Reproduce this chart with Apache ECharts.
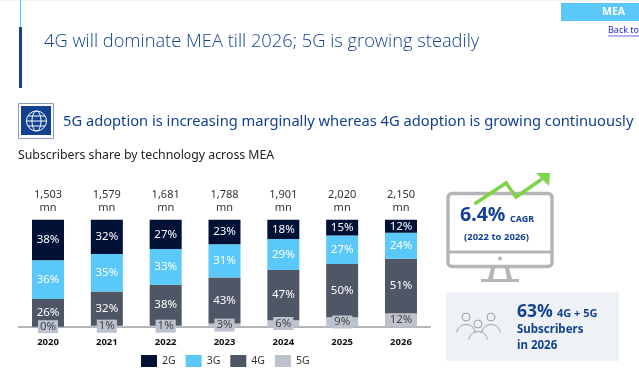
<!DOCTYPE html>
<html>
<head>
<meta charset="utf-8">
<script src="https://cdn.jsdelivr.net/npm/echarts@6/dist/echarts.min.js"></script>
<style>
html, body { margin: 0; padding: 0; background: #fff; }
#chart { width: 639px; height: 382px; }
</style>
</head>
<body>
<div id="chart"></div>
<script>
const years = ['2020', '2021', '2022', '2023', '2024', '2025', '2026'];
const totals = [1503, 1579, 1681, 1788, 1901, 2020, 2150];
// shares are rounded on the labels, the bars all reach 100
const share2G = [38, 32, 27.3, 23, 18, 14.7, 12.2];
const share3G = [36, 35, 33.4, 31, 29, 26.8, 24.3];
const share4G = [26, 32, 38.3, 43, 47, 49.7, 51.2];
const share5G = [0, 1, 1, 3, 6, 8.8, 12.3];

const NAVY = '#124191';
const FONT = '"Noto Sans", sans-serif';

const chart = echarts.init(document.getElementById('chart'));

function barSeries(name, data, color, labelColor, labelBg) {
  return {
    name: name,
    type: 'bar',
    stack: 'share',
    barWidth: 32,
    data: data,
    itemStyle: { color: color },
    label: {
      show: true,
      position: 'inside',
      color: labelColor,
      fontFamily: FONT,
      fontSize: 11.5,
      backgroundColor: labelBg,
      padding: labelBg ? [1, 2, 0, 2] : 0,
      formatter: p => Math.round(p.value) + '%'
    }
  };
}

function text(x, y, str, size, color, weight, family) {
  return {
    type: 'text',
    x: x,
    y: y,
    style: {
      text: str,
      fontSize: size,
      fill: color,
      fontWeight: weight || 'normal',
      fontFamily: family || FONT,
      verticalAlign: 'middle'
    }
  };
}

function rect(x, y, w, h, fill) {
  return { type: 'rect', shape: { x: x, y: y, width: w, height: h }, style: { fill: fill } };
}

function line(x1, y1, x2, y2, color, width) {
  return {
    type: 'line',
    shape: { x1: x1, y1: y1, x2: x2, y2: y2 },
    style: { stroke: color, lineWidth: width }
  };
}

function person(cx, cy) {
  return [
    { type: 'circle', shape: { cx: cx, cy: cy, r: 4 }, style: { fill: '#eef2f6', stroke: '#9aa0a8', lineWidth: 1 } },
    {
      type: 'arc',
      shape: { cx: cx, cy: cy + 17, r: 9.5, startAngle: Math.PI * 1.05, endAngle: Math.PI * 1.95, clockwise: true },
      style: { fill: null, stroke: '#9aa0a8', lineWidth: 1 }
    }
  ];
}

const decorations = [
  rect(0, 0, 639, 1, '#f2f2f2'),
  // title bar
  line(20.5, 0, 20.5, 27, '#5bc8fa', 1),
  rect(19, 27, 3, 61, NAVY),
  text(44, 41.5, '4G will dominate MEA till 2026; 5G is growing steadily', 18.3, NAVY, 300, '"Open Sans", sans-serif'),
  rect(561, 3, 78, 18, '#5bc8fa'),
  text(602, 12, 'MEA', 10.5, '#fff', 'bold'),
  text(608, 30.5, 'Back to', 9, '#2a2ae0'),
  line(608, 36, 639, 36, '#2a2ae0', 0.7),
  // globe icon
  {
    type: 'rect',
    shape: { x: 18.5, y: 103.5, width: 35, height: 35 },
    style: { fill: '#fff', stroke: '#8a9bc0', lineWidth: 1 }
  },
  rect(21, 106, 30, 29, NAVY),
  { type: 'circle', shape: { cx: 36.5, cy: 121, r: 10 }, style: { fill: null, stroke: '#fff', lineWidth: 1 } },
  { type: 'ellipse', shape: { cx: 36.5, cy: 121, rx: 4.5, ry: 10 }, style: { fill: null, stroke: '#fff', lineWidth: 1 } },
  line(26.5, 121, 46.5, 121, '#fff', 1),
  line(28, 116, 45, 116, '#fff', 1),
  line(28, 126, 45, 126, '#fff', 1),
  text(63, 122, '5G adoption is increasing marginally whereas 4G adoption is growing continuously', 14.7, NAVY),
  text(18, 155.5, 'Subscribers share by technology across MEA', 12.3, '#222'),
  // monitor
  {
    type: 'rect',
    shape: { x: 448, y: 193.5, width: 104, height: 73, r: 4 },
    style: { fill: '#fff', stroke: '#b5b5b5', lineWidth: 3.5 }
  },
  line(448, 252, 552, 252, '#b5b5b5', 3),
  { type: 'circle', shape: { cx: 500, cy: 258.5, r: 2 }, style: { fill: '#b5b5b5' } },
  {
    type: 'polygon',
    shape: { points: [[491, 268], [495, 268], [493, 279], [507, 279], [505, 268], [509, 268], [512, 279], [519, 279], [519, 282], [481, 282], [481, 279], [488, 279]] },
    style: { fill: '#b5b5b5' }
  },
  {
    type: 'polyline',
    shape: { points: [[474.5, 204], [506, 183], [516, 197], [542, 179]] },
    style: { fill: null, stroke: '#7ed348', lineWidth: 3.5 }
  },
  { type: 'polygon', shape: { points: [[550, 173], [536, 173], [549, 186]] }, style: { fill: '#7ed348' } },
  text(460, 215.5, '6.4%', 19.5, NAVY, 'bold'),
  text(510, 219, 'CAGR', 9, NAVY, 'bold'),
  text(464, 237.5, '(2022 to 2026)', 9.5, NAVY, 'bold'),
  // 63% panel
  rect(446, 292, 173, 69, '#eef2f6'),
  ...person(466, 317),
  ...person(491, 317),
  ...person(478, 324),
  text(517, 312, '63%', 17.5, NAVY, 'bold'),
  text(557, 314, '4G + 5G', 11, NAVY, 'bold'),
  text(517, 330, 'Subscribers', 11.5, NAVY, 'bold'),
  text(517, 345.5, 'in 2026', 11.5, NAVY, 'bold')
];

const option = {
  backgroundColor: '#fff',
  animation: false,
  textStyle: { fontFamily: FONT },
  grid: { left: 18.6, right: 208.6, top: 219.7, height: 107 },
  legend: {
    left: 136,
    top: 350,
    itemWidth: 16,
    itemHeight: 12,
    itemGap: 10,
    icon: 'rect',
    textStyle: { fontSize: 10.5, color: '#333' },
    data: ['2G', '3G', '4G', '5G']
  },
  xAxis: [
    {
      type: 'category',
      data: years,
      axisLine: { lineStyle: { color: '#9a9ea6', width: 1.5 } },
      axisTick: { show: false },
      axisLabel: { fontSize: 9.5, fontWeight: 'bold', color: '#111', margin: 11 }
    },
    {
      type: 'category',
      position: 'top',
      data: totals.map(v => v.toLocaleString('en-US') + '\nmn'),
      axisLine: { show: false },
      axisTick: { show: false },
      axisLabel: { fontSize: 11, lineHeight: 13, color: '#333', margin: 5 }
    }
  ],
  yAxis: { type: 'value', min: 0, max: 100, show: false },
  series: [
    barSeries('5G', share5G, '#bcc3cf', '#444', '#bcc3cf'),
    barSeries('4G', share4G, '#4f5666', '#fff'),
    barSeries('3G', share3G, '#5bc8fa', '#fff'),
    barSeries('2G', share2G, '#001135', '#fff')
  ],
  graphic: { elements: decorations }
};
chart.setOption(option);
</script>
</body>
</html>
